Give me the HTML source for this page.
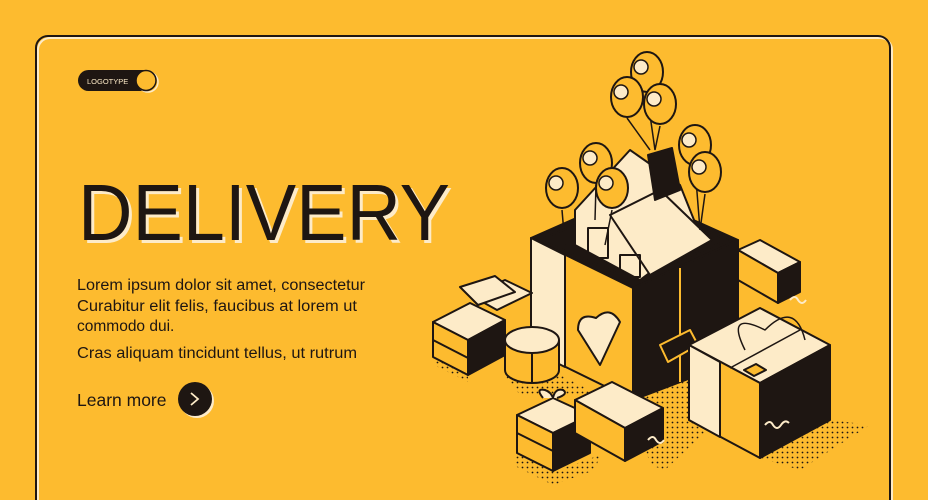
<!DOCTYPE html>
<html><head><meta charset="utf-8"><style>
html,body{margin:0;padding:0;background:#FDBB2F;}
svg{display:block}
</style></head><body>
<svg width="928" height="500" viewBox="0 0 928 500" xmlns="http://www.w3.org/2000/svg">
<defs>
<pattern id="dots" width="5" height="5" patternUnits="userSpaceOnUse"><circle cx="2.5" cy="2.5" r="0.9" fill="#1E1612"/></pattern>
</defs>
<rect width="928" height="500" fill="#FDBB2F"/>
<rect x="38" y="38" width="854" height="480" rx="12" fill="none" stroke="#FDEBC8" stroke-width="2"/>
<rect x="36" y="36" width="854" height="480" rx="12" fill="none" stroke="#1E1612" stroke-width="2"/>
<!-- logo -->
<rect x="78" y="70" width="76" height="21" rx="10.5" fill="#1E1612"/>
<text x="87" y="84" font-family="Liberation Sans, sans-serif" font-size="7.5" fill="#FDEBC8">LOGOTYPE</text>
<circle cx="148" cy="82" r="10" fill="none" stroke="#FDEBC8" stroke-width="1.5"/>
<circle cx="146" cy="80.5" r="10" fill="#FDBB2F" stroke="#1E1612" stroke-width="1.5"/>
<!-- title -->
<text x="81" y="243" font-family="Liberation Sans, sans-serif" font-size="80" fill="#FDEBC8" textLength="372" lengthAdjust="spacingAndGlyphs">DELIVERY</text>
<text x="78" y="240" font-family="Liberation Sans, sans-serif" font-size="80" fill="#1E1612" textLength="372" lengthAdjust="spacingAndGlyphs">DELIVERY</text>
<g font-family="Liberation Sans, sans-serif" font-size="15.5" fill="#1E1612">
<text x="77" y="290" textLength="288" lengthAdjust="spacingAndGlyphs">Lorem ipsum dolor sit amet, consectetur</text>
<text x="77" y="311" textLength="280" lengthAdjust="spacingAndGlyphs">Curabitur elit felis, faucibus at lorem ut</text>
<text x="77" y="331">commodo dui.</text>
<text x="77" y="358" textLength="280" lengthAdjust="spacingAndGlyphs">Cras aliquam tincidunt tellus, ut rutrum</text>
<text x="77" y="406" font-size="17.5">Learn more</text>
</g>
<circle cx="197" cy="401" r="17" fill="#FDEBC8"/>
<circle cx="195" cy="399" r="17" fill="#1E1612"/>
<path d="M191 393 L198 399 L191 405" fill="none" stroke="#FDEBC8" stroke-width="1.8"/>

<!-- dot shadows -->
<polygon points="436,355 468,372 468,382 436,366" fill="url(#dots)"/>
<polygon points="505,375 560,375 600,395 520,395" fill="url(#dots)"/>
<polygon points="515,452 553,472 600,455 595,470 553,485 515,466" fill="url(#dots)"/>
<polygon points="633,400 738,360 760,380 665,470 650,465" fill="url(#dots)"/>
<polygon points="760,458 830,420 870,425 800,470" fill="url(#dots)"/>

<g stroke="#1E1612" stroke-width="2" stroke-linejoin="round">
<!-- right long box -->
<polygon points="738,250 760,240 800,262 778,273" fill="#FDEBC8"/>
<polygon points="738,250 778,273 778,303 738,280" fill="#FDBB2F"/>
<polygon points="778,273 800,262 800,292 778,303" fill="#1E1612"/>
<!-- big box -->
<polygon points="531,238 633,193 738,240 633,288" fill="#1E1612"/>
<polygon points="540,240 633,200 728,240 633,280" fill="#1E1612"/>
<!-- house -->
<polygon points="575,210 630,150 680,185 700,235 640,280 575,245" fill="#FDEBC8"/>
<polygon points="610,215 660,190 712,240 650,275" fill="#FDEBC8"/>
<polygon points="648,155 672,148 680,190 655,200" fill="#1E1612"/>
<rect x="588" y="228" width="20" height="30" fill="none"/>
<rect x="620" y="255" width="20" height="22" fill="none"/>
<polygon points="531,238 633,288 633,400 531,350" fill="#FDBB2F"/>
<polygon points="531,238 565,255 565,367 531,350" fill="#FDEBC8"/>
<polygon points="633,288 738,240 738,360 633,400" fill="#1E1612"/>
<line x1="680" y1="268" x2="680" y2="382" stroke="#FDBB2F"/>
<polygon points="660,345 690,330 698,345 668,362" fill="#1E1612" stroke="#FDBB2F"/>
<path d="M600 365 L578 330 Q578 312 596 318 Q610 305 620 322 Z" fill="#FDEBC8"/>
<!-- left flat box with paper -->
<polygon points="470,295 505,280 532,293 497,310" fill="#FDEBC8"/>
<polygon points="460,287 495,276 515,292 478,305" fill="#FDEBC8"/>
<!-- left gift -->
<polygon points="433,322 470,303 505,320 468,340" fill="#FDEBC8"/>
<polygon points="433,322 468,340 468,375 433,357" fill="#FDBB2F"/>
<polygon points="468,340 505,320 505,355 468,375" fill="#1E1612"/>
<line x1="433" y1="340" x2="468" y2="358"/>
<!-- round box -->
<path d="M505 340 L505 370 A27 13 0 0 0 559 370 L559 340" fill="#FDBB2F"/>
<ellipse cx="532" cy="340" rx="27" ry="13" fill="#FDEBC8"/>
<line x1="532" y1="353" x2="532" y2="383"/>
<!-- small gift -->
<polygon points="517,415 553,398 590,415 553,433" fill="#FDEBC8"/>
<polygon points="517,415 553,433 553,471 517,453" fill="#FDBB2F"/>
<polygon points="553,433 590,415 590,453 553,471" fill="#1E1612"/>
<line x1="517" y1="433" x2="553" y2="451"/>
<path d="M543 398 q-8 -10 2 -8 q6 2 8 8 q2 -10 10 -8 q6 4 -6 8" fill="#FDEBC8"/>
<!-- flat box -->
<polygon points="575,400 612,382 663,408 625,428" fill="#FDEBC8"/>
<polygon points="575,400 625,428 625,461 575,433" fill="#FDBB2F"/>
<polygon points="625,428 663,408 663,441 625,461" fill="#1E1612"/>
<!-- big right box -->
<polygon points="689,345 760,308 830,345 760,383" fill="#FDEBC8"/>
<polygon points="689,345 760,383 760,458 689,420" fill="#FDBB2F"/>
<polygon points="689,345 720,362 720,437 689,420" fill="#FDEBC8"/>
<polygon points="760,383 830,345 830,420 760,458" fill="#1E1612"/>
<line x1="730" y1="368" x2="800" y2="330" stroke-width="1.5"/>
<polygon points="744,370 756,364 766,370 754,376" fill="#FDBB2F"/>
<path d="M745 350 q-20 -40 20 -20 q30 -30 40 10" fill="none" stroke-width="1.5"/>
</g>
<g stroke="#FDEBC8" stroke-width="2" fill="none">
<path d="M765 425 q5 -6 8 0 q4 6 8 0 q4 -6 8 -2"/>
<path d="M790 300 q5 -6 8 0 q4 6 8 0"/>
<path d="M648 440 q5 -6 8 0 q4 6 8 0"/>
</g>
<!-- balloons -->
<g stroke="#1E1612" stroke-width="1.5" fill="none">
<path d="M647 94 L655 150 M627 118 L650 150 M660 126 L655 150 M562 210 L565 245 M596 185 L595 220 M612 210 L605 245 M695 167 L700 230 M705 194 L700 230"/>
</g>
<g stroke="#1E1612" stroke-width="2">
<g fill="#FDBB2F">
<ellipse cx="647" cy="72" rx="16" ry="20"/>
<ellipse cx="627" cy="97" rx="16" ry="20"/>
<ellipse cx="660" cy="104" rx="16" ry="20"/>
<ellipse cx="562" cy="188" rx="16" ry="20"/>
<ellipse cx="596" cy="163" rx="16" ry="20"/>
<ellipse cx="612" cy="188" rx="16" ry="20"/>
<ellipse cx="695" cy="145" rx="16" ry="20"/>
<ellipse cx="705" cy="172" rx="16" ry="20"/>
</g>
<g fill="#FDEBC8" stroke-width="1.5">
<circle cx="641" cy="67" r="7"/><circle cx="621" cy="92" r="7"/><circle cx="654" cy="99" r="7"/>
<circle cx="556" cy="183" r="7"/><circle cx="590" cy="158" r="7"/><circle cx="606" cy="183" r="7"/>
<circle cx="689" cy="140" r="7"/><circle cx="699" cy="167" r="7"/>
</g>
</g>
</svg>
</body></html>
